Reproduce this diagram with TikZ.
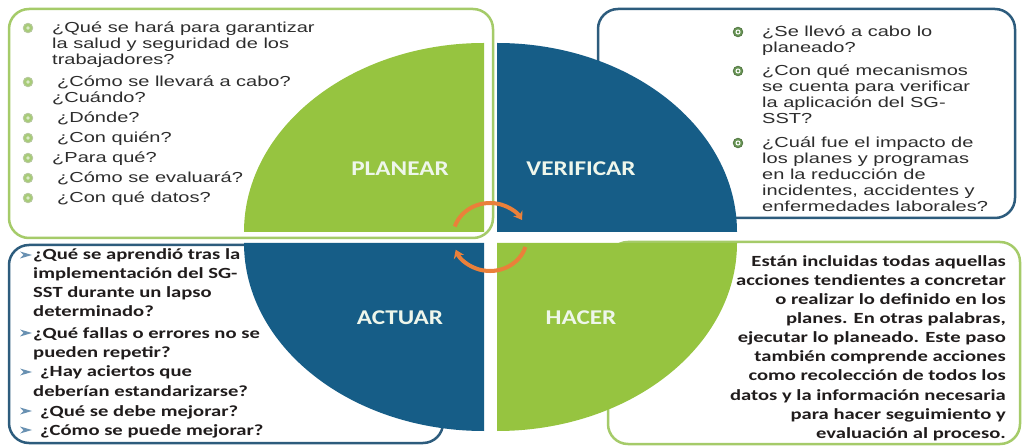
\documentclass[tikz,border=0pt]{standalone}
\usepackage{fontspec}
\usetikzlibrary{arrows.meta}
\newfontfamily\topfont[FakeStretch=1.38]{Liberation Sans}
\newfontfamily\botfont[FakeStretch=1.33]{Carlito}
\newfontfamily\labfont[FakeStretch=1.2]{Carlito}
\definecolor{qgreen}{RGB}{150,196,64}
\definecolor{qblue}{RGB}{22,93,135}
\definecolor{bgreen}{RGB}{165,203,105}
\definecolor{bblue}{RGB}{45,92,125}
\definecolor{txtgray}{RGB}{45,45,45}
\definecolor{btxt}{RGB}{32,28,28}
\definecolor{arrorange}{RGB}{234,128,58}
\definecolor{dotgreen}{RGB}{168,204,120}
\definecolor{dotdark}{RGB}{105,150,85}
\definecolor{arrowblue}{RGB}{105,145,178}
\definecolor{labwhite}{RGB}{238,246,235}
\pgfdeclarelayer{boxlayer}
\pgfsetlayers{boxlayer,main}
\begin{document}
\begin{tikzpicture}[x=1pt,y=1pt,
  box/.style={draw, line width=2.5pt, rounded corners=20pt, fill=white, inner sep=0pt, outer sep=0pt},
  toptext/.style={anchor=base west, inner sep=0pt, text=txtgray, font=\topfont\fontsize{14.5}{15.5}\selectfont},
  bottext/.style={anchor=base west, inner sep=0pt, text=btxt, font=\botfont\bfseries\fontsize{15.5}{19}\selectfont},
  brtext/.style={bottext, anchor=base east},
  quadlabel/.style={text=labwhite, font=\labfont\bfseries\fontsize{21}{24}\selectfont, inner sep=0pt},
  cyc/.style={draw=arrorange, line width=4pt, -{Stealth[length=8pt,width=11pt]}},
  lightdot/.style={fill=dotgreen, draw=dotgreen!80!black!60, line width=0.8pt},
  darkdot/.style={fill=dotdark, draw=dotdark!80!black, line width=0.8pt},
]
\useasboundingbox (0,0) rectangle (1023,-446);

\begin{pgfonlayer}{boxlayer}
\fill[white] (0,0) rectangle (1023,-446);
\node[box, draw=bgreen, minimum width=484pt, minimum height=229pt] (tlbox) at (251,-123.5) {};
\node[box, draw=bblue, minimum width=417pt, minimum height=209pt] (trbox) at (806.5,-113.5) {};
\node[box, draw=bblue, minimum width=434pt, minimum height=198pt] (blbox) at (226,-344) {};
\node[box, draw=bgreen, minimum width=412pt, minimum height=202pt] (brbox) at (814,-343) {};
\end{pgfonlayer}

% quadrants
\fill[qgreen] (484,-232) -- (244,-232) arc[start angle=180, end angle=90, x radius=240pt, y radius=189pt] -- cycle;
\fill[qblue] (497,-232) -- (497,-43) arc[start angle=90, end angle=0, x radius=240pt, y radius=189pt] -- cycle;
\fill[qblue] (484,-243) -- (244,-243) arc[start angle=180, end angle=270, x radius=240pt, y radius=188pt] -- cycle;
\fill[qgreen] (497,-243) -- (737,-243) arc[start angle=0, end angle=-90, x radius=240pt, y radius=188pt] -- cycle;

\node[quadlabel] (plan) at (400,-169) {PLANEAR};
\node[quadlabel] (verif) at (581,-169) {VERIFICAR};
\node[quadlabel] (act) at (400,-318) {ACTUAR};
\node[quadlabel] (hac) at (581,-318) {HACER};

% cycle arrows
\draw[cyc] ([shift={(162:37pt and 34pt)}]490,-237) arc[start angle=162, end angle=30, x radius=37pt, y radius=34pt];
\draw[cyc] ([shift={(-17:37pt and 34pt)}]490,-237) arc[start angle=-17, end angle=-158, x radius=37pt, y radius=34pt];

% top-left text
\foreach \py/\px/\ptext [count=\i] in {
  28/52/{¿Qué se hará para garantizar},
  44/52/{la salud y seguridad de los},
  60/52/{trabajadores?},
  82/57/{¿Cómo se llevará a cabo?},
  98/52/{¿Cuándo?},
  118/57/{¿Dónde?},
  138/57/{¿Con quién?},
  158/52/{¿Para qué?},
  178/57/{¿Cómo se evaluará?},
  198/57/{¿Con qué datos?}}
  \node[toptext] (tl\i) at (\px,-\py-5) {\ptext};
\foreach \py [count=\i] in {28,82,118,138,158,178,198}{
  \fill[lightdot] (28,-\py) circle[radius=4.8pt];
  \fill[white!60!dotgreen] (28,-\py) circle[radius=1.8pt];
}

% top-right text
\foreach \py/\ptext [count=\i] in {
  32/{¿Se llevó a cabo lo},
  48/{planeado?},
  71/{¿Con qué mecanismos},
  87/{se cuenta para verificar},
  103/{la aplicación del SG-},
  119/{SST?},
  143/{¿Cuál fue el impacto de},
  159/{los planes y programas},
  175/{en la reducción de},
  191/{incidentes, accidentes y},
  207/{enfermedades laborales?}}
  \node[toptext] (tr\i) at (762,-\py-5) {\ptext};
\foreach \py [count=\i] in {32,71,143}{
  \fill[darkdot] (738,-\py) circle[radius=4.8pt];
  \draw[white, line width=1pt] (738,-\py) circle[radius=2pt];
}

% bottom-left text
\foreach \py/\px/\ptext [count=\i] in {
  255/33/{¿Qué se aprendió tras la},
  274/33/{implementación del SG-},
  293/33/{SST durante un lapso},
  312/33/{determinado?},
  333/33/{¿Qué fallas o errores no se},
  352/33/{pueden repetir?},
  372/40/{¿Hay aciertos que},
  391/33/{deberían estandarizarse?},
  411/40/{¿Qué se debe mejorar?},
  430/40/{¿Cómo se puede mejorar?}}
  \node[bottext] (bl\i) at (\px,-\py-5) {\ptext};
\foreach \py [count=\i] in {255,333,372,411,430}{
  \fill[arrowblue] (20,-\py+3.5) -- (32,-\py) -- (20,-\py-3.5) -- (23.5,-\py) -- cycle;
}

% bottom-right text
\foreach \py/\ptext [count=\i] in {
  262/{Están incluidas todas aquellas},
  281/{acciones tendientes a concretar},
  300/{o realizar lo definido en los},
  319/{planes. En otras palabras,},
  338/{ejecutar lo planeado. Este paso},
  357/{también comprende acciones},
  376/{como recolección de todos los},
  395/{datos y la información necesaria},
  414/{para hacer seguimiento y},
  433/{evaluación al proceso.}}
  \node[brtext] (br\i) at (1006,-\py-5) {\ptext};
\end{tikzpicture}
\end{document}
